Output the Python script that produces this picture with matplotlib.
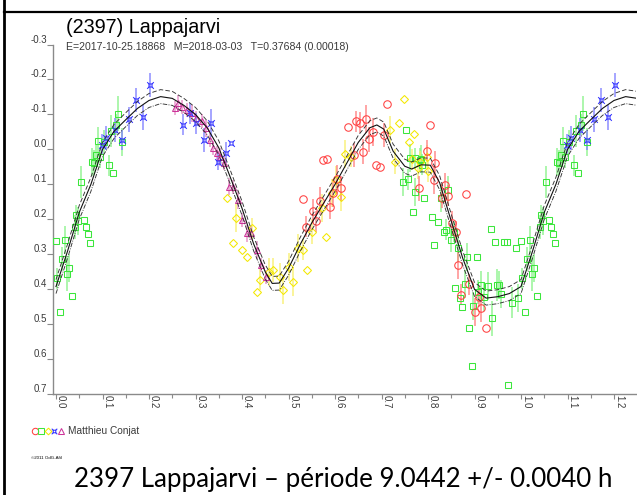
import numpy as np
import matplotlib
matplotlib.use("Agg")
import matplotlib.pyplot as plt
from matplotlib.path import Path
from matplotlib.lines import Line2D

# ---------------- data ----------------
# fitted light curve over one rotation (phase, relative magnitude)
curve_phase = [0.000, 0.025, 0.050, 0.075, 0.100, 0.125, 0.150, 0.175, 0.200,
               0.225, 0.250, 0.275, 0.300, 0.325, 0.350, 0.375, 0.400, 0.425,
               0.450, 0.465, 0.480, 0.500, 0.525, 0.550, 0.575, 0.600, 0.625,
               0.650, 0.675, 0.690, 0.705, 0.725, 0.750, 0.765, 0.785, 0.805,
               0.825, 0.850, 0.875, 0.900, 0.925, 0.950, 0.975, 1.000]
curve_mag = [0.392, 0.290, 0.180, 0.100, 0.000, -0.052, -0.085, -0.117, -0.140,
             -0.151, -0.146, -0.126, -0.100, -0.062, -0.005, 0.080, 0.168, 0.270,
             0.350, 0.383, 0.382, 0.340, 0.272, 0.210, 0.155, 0.100, 0.040,
             -0.020, -0.062, -0.070, -0.058, 0.005, 0.048, 0.056, 0.044, 0.045,
             0.095, 0.205, 0.312, 0.400, 0.425, 0.421, 0.412, 0.392]
curve_sigma = 0.02

# green squares
green_phase = [0.000, 0.003, 0.009, 0.013, 0.019, 0.024, 0.028, 0.034, 0.040, 0.043,
               0.047, 0.054, 0.060, 0.065, 0.069, 0.073, 0.077, 0.081, 0.087, 0.090,
               0.095, 0.103, 0.113, 0.123, 0.119, 0.130, 0.134, 0.141,
               0.752, 0.747, 0.758, 0.761, 0.767, 0.771, 0.771, 0.782, 0.786, 0.788,
               0.792, 0.808, 0.813, 0.822, 0.829, 0.834, 0.839, 0.844, 0.849, 0.855,
               0.858, 0.864, 0.869, 0.874, 0.879, 0.883, 0.889, 0.894, 0.897, 0.905,
               0.908, 0.914, 0.921, 0.930, 0.935, 0.938, 0.944, 0.949, 0.953, 0.958,
               0.963, 0.969, 0.973, 0.980, 0.989, 0.994]
green_mag = [0.263, 0.368, 0.464, 0.313, 0.260, 0.356, 0.338, 0.420, 0.222, 0.188,
             0.205, 0.093, 0.203, 0.222, 0.242, 0.268, 0.036, 0.038, 0.016, -0.025,
             0.022, -0.022, 0.045, 0.068, -0.053, -0.070, -0.102, -0.022,
             -0.057, 0.092, 0.085, 0.025, 0.178, 0.121, 0.025, 0.030, 0.028, 0.044,
             0.140, 0.192, 0.273, 0.208, 0.138, 0.236, 0.230, 0.117, 0.259, 0.235,
             0.395, 0.281, 0.424, 0.451, 0.386, 0.307, 0.511, 0.619, 0.447, 0.308,
             0.407, 0.388, 0.423, 0.389, 0.228, 0.483, 0.266, 0.387, 0.387, 0.414,
             0.266, 0.266, 0.672, 0.438, 0.283, 0.426]
green_err = [0, 0.03, 0, 0.035, 0.04, 0.05, 0.04, 0, 0.035, 0.03,
             0.04, 0.045, 0, 0, 0, 0, 0.04, 0.035, 0.03, 0.04,
             0.03, 0.035, 0.03, 0, 0.045, 0.03, 0.05, 0.04,
             0, 0.04, 0.03, 0.04, 0, 0.04, 0.03, 0.035, 0.04, 0.03,
             0, 0, 0, 0, 0.04, 0, 0.03, 0.04, 0.035, 0.03,
             0, 0.04, 0, 0, 0.04, 0.04, 0, 0, 0.04, 0,
             0.035, 0.04, 0.04, 0.04, 0, 0.05, 0, 0.045, 0.04, 0.04,
             0, 0, 0, 0.045, 0, 0.04]

# blue crosses
blue_phase = [0.098, 0.108, 0.126, 0.142, 0.158, 0.173, 0.188, 0.202,
              0.274, 0.288, 0.302, 0.319, 0.333, 0.349, 0.366, 0.376]
blue_mag = [-0.013, -0.032, -0.055, -0.027, -0.086, -0.141, -0.092, -0.184,
            -0.070, -0.103, -0.075, -0.027, -0.075, 0.035, 0.009, -0.017]
blue_err = [0.03, 0.035, 0.035, 0.03, 0.035, 0.035, 0.035, 0.035,
            0.03, 0.03, 0.03, 0.035, 0.04, 0.025, 0.03, 0]

# magenta triangles
pink_phase = [0.256, 0.263, 0.270, 0.281, 0.292, 0.302, 0.313, 0.322, 0.331, 0.338,
              0.346, 0.353, 0.361, 0.371, 0.380, 0.392, 0.399, 0.410, 0.419, 0.432,
              0.440, 0.452]
pink_mag = [-0.118, -0.132, -0.122, -0.113, -0.103, -0.089, -0.080, -0.060, -0.027, -0.003,
            0.011, 0.021, 0.040, 0.106, 0.106, 0.145, 0.202, 0.240, 0.240, 0.288,
            0.330, 0.364]
pink_err = [0.02, 0.025, 0.02, 0.02, 0.025, 0.02, 0.02, 0.025, 0.02, 0.02,
            0.02, 0.025, 0.02, 0.025, 0.02, 0.025, 0.02, 0.025, 0.02, 0.025,
            0.02, 0.02]

# yellow diamonds
yellow_phase = [0.367, 0.380, 0.388, 0.399, 0.410, 0.421, 0.432, 0.439, 0.457, 0.467,
                0.482, 0.489, 0.500, 0.510, 0.521, 0.531, 0.539, 0.551, 0.572, 0.581,
                0.594, 0.602, 0.612, 0.622, 0.634, 0.718, 0.729, 0.738, 0.749, 0.760,
                0.765, 0.770, 0.779, 0.782, 0.797, 0.801]
yellow_mag = [0.140, 0.268, 0.197, 0.287, 0.307, 0.225, 0.407, 0.373, 0.349, 0.345,
              0.364, 0.402, 0.335, 0.378, 0.283, 0.287, 0.345, 0.235, 0.168, 0.249,
              0.125, 0.087, 0.135, 0.013, 0.021, -0.057, 0.035, -0.075, -0.143, -0.022,
              0.028, -0.043, 0.054, 0.035, 0.021, 0.063]
yellow_err = [0, 0, 0.04, 0, 0, 0.03, 0, 0.03, 0.04, 0.035,
              0.04, 0.04, 0.04, 0.04, 0.04, 0.03, 0, 0.035, 0.04, 0,
              0.04, 0.04, 0.04, 0.04, 0.03, 0.04, 0.035, 0, 0, 0,
              0.03, 0, 0.03, 0.03, 0.035, 0.03]

# red circles
red_phase = [0.532, 0.538, 0.552, 0.559, 0.568, 0.575, 0.583, 0.589, 0.596, 0.605,
             0.613, 0.629, 0.640, 0.645, 0.654, 0.660, 0.667, 0.674, 0.682, 0.689,
             0.697, 0.705, 0.7125, 0.781, 0.797, 0.804, 0.812, 0.815, 0.830, 0.837,
             0.844, 0.851, 0.860, 0.865, 0.872, 0.882, 0.889, 0.901, 0.910, 0.915,
             0.925]
red_mag = [0.142, 0.221, 0.176, 0.205, 0.147, 0.030, 0.027, 0.164, 0.125, 0.085,
           0.111, -0.063, 0.016, -0.081, -0.077, 0.006, -0.086, -0.029, -0.051, 0.045,
           0.049, -0.041, -0.129, 0.111, 0.004, -0.070, 0.087, 0.040, 0.138, 0.102,
           0.133, 0.211, 0.235, 0.330, 0.416, 0.127, 0.385, 0.464, 0.421, 0.454,
           0.510]
red_err = [0, 0.03, 0.035, 0.03, 0.04, 0, 0, 0.035, 0.04, 0.04,
           0.035, 0, 0.035, 0.03, 0.03, 0.035, 0.04, 0.035, 0.04, 0,
           0, 0.035, 0, 0.035, 0.03, 0, 0.04, 0.035, 0.03, 0.035,
           0.03, 0.035, 0.03, 0.04, 0.03, 0, 0.03, 0.04, 0.03, 0.04,
           0]

xticks = [0.0, 0.1, 0.2, 0.3, 0.4, 0.5, 0.6, 0.7, 0.8, 0.9, 1.0, 1.1, 1.2]
yticks = [-0.3, -0.2, -0.1, 0.0, 0.1, 0.2, 0.3, 0.4, 0.5, 0.6, 0.7]

title = "(2397) Lappajarvi"
subtitle = "E=2017-10-25.18868   M=2018-03-03   T=0.37684 (0.00018)"
observer = "Matthieu Conjat"
caption = "2397 Lappajarvi \u2013 p\u00e9riode 9.0442 +/- 0.0040 h"

# ---------------- figure ----------------
W, H = 637, 495
fig = plt.figure(figsize=(W / 100, H / 100), dpi=100)
fig.patch.set_facecolor("white")

ax_l, ax_r, ax_t, ax_b = 53.3, 636.0, 44.5, 394.3
ax = fig.add_axes([ax_l / W, 1 - ax_b / H, (ax_r - ax_l) / W, (ax_b - ax_t) / H])
x0 = 56.0
xscale = 465.0
ax.set_xlim((ax_l - x0) / xscale, (ax_r - x0) / xscale)
ax.set_ylim(0.7, -0.3)

axis_grey = "#8a8a8a"
text_grey = "#3a3a3a"
for side in ("top", "right"):
    ax.spines[side].set_visible(False)
for side in ("left", "bottom"):
    ax.spines[side].set_color(axis_grey)
    ax.spines[side].set_linewidth(1.0)

ax.set_xticks(xticks)
ax.set_xticks(np.arange(0.05, 1.25, 0.1), minor=True)
ax.set_xticklabels(["%.1f" % v for v in xticks], rotation=-90,
                   fontsize=7, family="Liberation Sans", color=text_grey)
for lab in ax.get_xticklabels():
    lab.set_ha("left")
    lab.set_va("top")
ax.set_yticks(yticks)
ax.set_yticklabels(["%.1f" % v for v in yticks], fontsize=7,
                   family="Liberation Sans", color=text_grey)
for lab in ax.get_yticklabels():
    lab.set_va("bottom")
ax.tick_params(axis="x", which="major", direction="out", length=3.8,
               width=0.8, color=axis_grey, pad=-3)
ax.tick_params(axis="x", which="minor", direction="out", length=3.0,
               width=0.8, color=axis_grey)
ax.tick_params(axis="y", which="major", direction="out", length=4.0,
               width=0.8, color=axis_grey, pad=0.5)

# custom marker: small square with corner spurs
cross_path = Path(
    [(-0.5, -0.5), (0.5, -0.5), (0.5, 0.5), (-0.5, 0.5), (-0.5, -0.5),
     (0.5, 0.5), (1.1, 1.1), (-0.5, 0.5), (-1.1, 1.1),
     (0.5, -0.5), (1.1, -1.1), (-0.5, -0.5), (-1.1, -1.1)],
    [Path.MOVETO, Path.LINETO, Path.LINETO, Path.LINETO, Path.CLOSEPOLY,
     Path.MOVETO, Path.LINETO, Path.MOVETO, Path.LINETO,
     Path.MOVETO, Path.LINETO, Path.MOVETO, Path.LINETO])

series = [
    (green_phase, green_mag, green_err, "#3ce63c", "#8af28a", "s", 4.0),
    (yellow_phase, yellow_mag, yellow_err, "#f4e800", "#f8f070", "D", 3.6),
    (red_phase, red_mag, red_err, "#ff4040", "#ff8080", "o", 5.4),
    (pink_phase, pink_mag, pink_err, "#cc3399", "#e48cc4", "^", 4.4),
    (blue_phase, blue_mag, blue_err, "#3434ff", "#8080ff", cross_path, 4.8),
]

xmax = ax.get_xlim()[1]
for ph, mg, er, col, ecol, mk, ms in series:
    ph = np.asarray(ph)
    mg = np.asarray(mg)
    er = np.asarray(er)
    for shift in (0.0, 1.0):
        p = ph + shift
        keep = p <= xmax
        bars = keep & (er > 0)
        ax.vlines(p[bars], mg[bars] - er[bars], mg[bars] + er[bars],
                  colors=ecol, linewidth=1.1, alpha=0.9, zorder=2)
        ax.plot(p[keep], mg[keep], linestyle="none", marker=mk,
                markersize=ms, markerfacecolor="none", markeredgecolor=col,
                markeredgewidth=0.75, zorder=3)

# fitted curve with its one-sigma envelope, drawn over two cycles
cp = np.asarray(curve_phase)
cm = np.asarray(curve_mag)
cp2 = np.concatenate([cp, cp[1:] + 1.0])
cm2 = np.concatenate([cm, cm[1:]])
ax.plot(cp2, cm2, color="#111111", linewidth=0.8, zorder=4)
ax.plot(cp2, cm2 - curve_sigma, color="#333333", linewidth=0.65,
        linestyle=(0, (5, 2.5)), zorder=4)
ax.plot(cp2, cm2 + curve_sigma, color="#333333", linewidth=0.65,
        linestyle=(0, (5, 1.5, 1, 1.5)), zorder=4)

# ---------------- texts and frame ----------------
fig.text(66 / W, 1 - 33 / H, title, fontsize=14.2, family="Liberation Sans",
         va="baseline", ha="left", color="black")
fig.text(66 / W, 1 - 50.5 / H, subtitle, fontsize=7.6, family="Liberation Sans",
         va="baseline", ha="left", color=text_grey)

# legend row: one symbol per observing session, then the observer
legend_marks = [("o", "#ff4040", 4.6), ("s", "#3ce63c", 3.8), ("D", "#f4e800", 3.4),
                (cross_path, "#3434ff", 4.0), ("^", "#cc3399", 4.2)]
lx = 34.5
for mk, col, ms in legend_marks:
    fig.add_artist(Line2D([lx / W], [1 - 431 / H], marker=mk, markersize=ms,
                          markerfacecolor="none", markeredgecolor=col,
                          markeredgewidth=0.75, linestyle="none"))
    lx += 6.5
fig.text(68.5 / W, 1 - 434.5 / H, observer, fontsize=7.3, family="Liberation Sans",
         va="baseline", ha="left", color=text_grey)
fig.text(31 / W, 1 - 459 / H, "\u00a92011 OdG-Afil", fontsize=3.2,
         family="Liberation Sans", va="baseline", ha="left", color="black")

cap = fig.text(73.5 / W, 1 - 486.5 / H, caption, fontsize=16, family="Lato",
               va="baseline", ha="left", color="black")
fig.canvas.draw()
w = cap.get_window_extent().width
cap.set_fontsize(16 * 539.0 / w)

fig.add_artist(Line2D([3.5 / W, 3.5 / W], [0, 1], color="black", linewidth=2.0))
fig.add_artist(Line2D([3.5 / W, 1], [1 - 12 / H, 1 - 12 / H], color="black",
                      linewidth=1.6))

fig.savefig("out.png", dpi=100)
